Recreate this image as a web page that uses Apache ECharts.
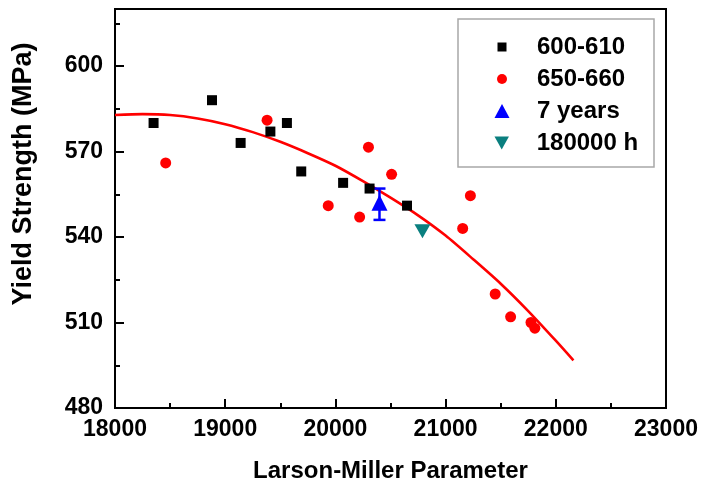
<!DOCTYPE html>
<html>
<head>
<meta charset="utf-8">
<script src="https://cdn.jsdelivr.net/npm/echarts@6/dist/echarts.min.js"></script>
<style>html,body{margin:0;padding:0;background:#fff;}#c{width:703px;height:488px;}</style>
</head>
<body>
<div id="c"></div>
<script>
// ---- data ----
const s600Name = '600-610';
const s600X = [18350, 18880, 19140, 19410, 19560, 19690, 20070, 20310, 20650];
const s600Y = [580, 588, 573, 577, 580, 563, 559, 557, 551];

const s650Name = '650-660';
const s650X = [18460, 19380, 19935, 20220, 20300, 20510, 21155, 21225, 21450, 21590, 21775, 21810];
const s650Y = [566, 581, 551, 547, 571.5, 562, 543, 554.5, 520, 512, 510, 508];

const s7yName = '7 years';
const s7yX = [20400];
const s7yY = [552];
const s7yLow = [546];
const s7yHigh = [557];

const s180Name = '180000 h';
const s180X = [20790];
const s180Y = [542];

const fitX = [18000, 18250, 18500, 18750, 19000, 19250, 19500, 19750, 20000, 20250, 20500, 20750, 21000, 21250, 21500, 21750, 22000, 22160];
const fitY = [582.8, 583.1, 582.8, 581.6, 579.6, 576.8, 573.4, 569.4, 565.0, 559.6, 553.8, 547.6, 540.5, 532.2, 523.6, 514.0, 503.6, 496.7];

const xTitle = 'Larson-Miller Parameter';
const yTitle = 'Yield Strength (MPa)';

// ---- chart ----
const FONT = '"Liberation Sans", Arial, Helvetica, sans-serif';
const zip = (a, b) => a.map((v, i) => [v, b[i]]);
const downTri = 'path://M0,0 L10,0 L5,9 Z';

const legendItems = [
  { name: s600Name, icon: 'rect', w: 9, h: 9, cy: 48 },
  { name: s650Name, icon: 'circle', w: 10, h: 10, cy: 80 },
  { name: s7yName, icon: 'triangle', w: 15, h: 14, cy: 112 },
  { name: s180Name, icon: downTri, w: 15, h: 13, cy: 144 }
];
const iconCX = 502, textX = 537;
const legends = legendItems.map(it => ({
  show: true,
  data: [{ name: it.name, icon: it.icon }],
  left: iconCX - it.w / 2,
  top: it.cy - 13,
  padding: 0,
  itemWidth: it.w,
  itemHeight: it.h,
  selectedMode: false,
  itemStyle: { opacity: 1 },
  textStyle: {
    fontSize: 24, fontWeight: 'bold', color: '#000', fontFamily: FONT,
    padding: [0, 0, 0, textX - (iconCX + it.w / 2 + 5)]
  }
}));

const chart = echarts.init(document.getElementById('c'), null, { renderer: 'canvas' });
chart.setOption({
  animation: false,
  backgroundColor: '#fff',
  grid: { left: 115, right: 37, top: 9, bottom: 71, show: true, borderColor: '#000', borderWidth: 2, backgroundColor: 'transparent' },
  legend: legends,
  graphic: [
    { type: 'rect', shape: { x: 458, y: 19, width: 196, height: 148 }, style: { fill: 'none', stroke: '#a8a8a8', lineWidth: 1.5 }, z: 5 },
    { type: 'text', x: 24, y: 174, rotation: Math.PI / 2,
      style: { text: yTitle, fontSize: 27, fontWeight: 'bold', fontFamily: FONT, fill: '#000', align: 'center', verticalAlign: 'middle' } }
  ],
  xAxis: {
    type: 'value', min: 18000, max: 23000, interval: 1000,
    name: xTitle, nameLocation: 'middle', nameGap: 51,
    nameTextStyle: { fontSize: 24, fontWeight: 'bold', color: '#000', fontFamily: FONT },
    axisLine: { show: true, lineStyle: { color: '#000', width: 2 } },
    axisTick: { show: true, inside: true, length: 9, lineStyle: { color: '#000', width: 2 } },
    minorTick: { show: true, splitNumber: 2, length: 5, lineStyle: { color: '#000', width: 2 } },
    splitLine: { show: false },
    axisLabel: { margin: 10, fontSize: 23, fontWeight: 'bold', color: '#000', fontFamily: FONT, formatter: v => String(v) }
  },
  yAxis: [{
    type: 'value', min: 480, max: 620, interval: 30, position: 'left',
    axisLine: { show: true, lineStyle: { color: '#000', width: 2 } },
    axisTick: { show: true, inside: true, length: 9, lineStyle: { color: '#000', width: 2 } },
    splitLine: { show: false },
    axisLabel: { margin: 12, fontSize: 23, fontWeight: 'bold', color: '#000', fontFamily: FONT, showMaxLabel: false,
      formatter: v => (v % 30 === 0 ? String(v) : '') }
  }, {
    type: 'value', min: 480, max: 620, interval: 15, position: 'left', gridIndex: 0,
    axisLine: { show: false },
    axisTick: { show: true, inside: true, length: 5, lineStyle: { color: '#000', width: 2 } },
    splitLine: { show: false },
    axisLabel: { show: false }
  }],
  series: [
    { name: 'fit', type: 'line', data: zip(fitX, fitY), smooth: 0.25, symbol: 'none',
      lineStyle: { color: '#ff0000', width: 2.6 }, z: 3 },
    { name: s600Name, type: 'scatter', data: zip(s600X, s600Y), symbol: 'rect', symbolSize: 10,
      itemStyle: { color: '#000', opacity: 1 }, z: 4 },
    { name: s650Name, type: 'scatter', data: zip(s650X, s650Y), symbol: 'circle', symbolSize: 11,
      itemStyle: { color: '#ff0000', opacity: 1 }, z: 4 },
    { name: 'err', type: 'custom', z: 4,
      data: s7yX.map((x, i) => [x, s7yLow[i], s7yHigh[i]]),
      encode: { x: 0, y: [1, 2] },
      renderItem: (params, api) => {
        const x = api.value(0);
        const lo = api.coord([x, api.value(1)]);
        const hi = api.coord([x, api.value(2)]);
        const hw = 6;
        const st = { stroke: '#0000ff', lineWidth: 2.5 };
        return { type: 'group', children: [
          { type: 'line', shape: { x1: lo[0], y1: lo[1], x2: hi[0], y2: hi[1] }, style: st },
          { type: 'line', shape: { x1: lo[0] - hw, y1: lo[1], x2: lo[0] + hw, y2: lo[1] }, style: st },
          { type: 'line', shape: { x1: hi[0] - hw, y1: hi[1], x2: hi[0] + hw, y2: hi[1] }, style: st }
        ] };
      }
    },
    { name: s7yName, type: 'scatter', data: zip(s7yX, s7yY), symbol: 'triangle', symbolSize: [16, 16],
      itemStyle: { color: '#0000ff', opacity: 1 }, z: 5 },
    { name: s180Name, type: 'scatter', data: zip(s180X, s180Y), symbol: downTri, symbolSize: [16, 14],
      itemStyle: { color: '#0a7f7f', opacity: 1 }, z: 5 }
  ]
});
</script>
</body>
</html>
